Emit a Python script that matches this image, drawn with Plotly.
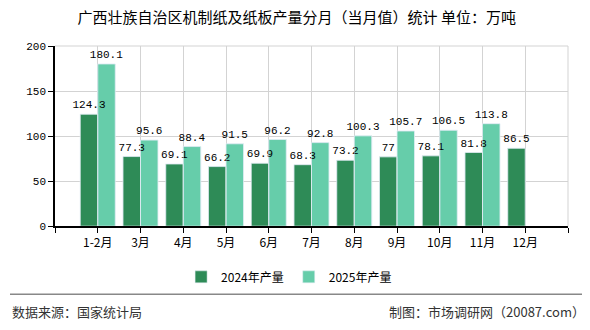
import plotly.graph_objects as go

categories = ["1-2月", "3月", "4月", "5月", "6月", "7月", "8月", "9月", "10月", "11月", "12月"]
values_2024 = [124.3, 77.3, 69.1, 66.2, 69.9, 68.3, 73.2, 77, 78.1, 81.8, 86.5]
values_2025 = [180.1, 95.6, 88.4, 91.5, 96.2, 92.8, 100.3, 105.7, 106.5, 113.8, None]
series_names = ["2024年产量", "2025年产量"]
y_ticks = [0, 50, 100, 150, 200]

title_text = "广西壮族自治区机制纸及纸板产量分月（当月值）统计 单位：万吨"
source_text = "数据来源：国家统计局"
credit_text = "制图：市场调研网（20087.com）"

xpos = list(range(len(categories)))
cjk = "Noto Sans CJK SC"
mono = "Liberation Mono"
colors = ["#2E8B57", "#66CDAA"]

def labels(vals):
    return ["" if v is None else (str(int(v)) if float(v).is_integer() else str(v)) for v in vals]

fig = go.Figure()
series = [values_2024, values_2025]
# visible bars
for i, vals in enumerate(series):
    fig.add_trace(go.Bar(
        x=xpos, y=vals, name=series_names[i], marker_color=colors[i],
        offsetgroup=str(i),
    ))
# label carriers drawn on top (transparent bars, same groups)
for i, vals in enumerate(series):
    fig.add_trace(go.Bar(
        x=xpos, y=vals, name=series_names[i], showlegend=False,
        marker=dict(color="rgba(0,0,0,0)"), offsetgroup=str(i),
        text=labels(vals), textposition="outside", cliponaxis=False,
        constraintext="none", hoverinfo="skip",
        textfont=dict(family=mono, size=11, color="#000"),
    ))

tickvals = [-1] + xpos + [len(categories)]
ticktext = [""] + categories + [""]

fig.update_layout(
    width=590, height=330,
    margin=dict(l=55, r=22, t=46, b=101),
    paper_bgcolor="white", plot_bgcolor="white",
    barmode="group", bargap=0.18, bargroupgap=0,
    showlegend=True,
    legend=dict(orientation="h", xref="container", yref="container",
                x=0.49, xanchor="center", y=0.161, yanchor="middle",
                font=dict(family=cjk, size=12, color="#000"),
                itemwidth=30, tracegroupgap=0),
    title=dict(text=title_text, x=0.503, xanchor="center", xref="container",
               y=0.945, yanchor="middle", yref="container",
               font=dict(family=cjk, size=15, color="#000")),
    uniformtext=dict(mode=False),
)
fig.update_xaxes(
    range=[-1, len(categories)], tickvals=tickvals, ticktext=ticktext,
    showgrid=True, gridcolor="#d3d3d3", gridwidth=1,
    showline=True, linecolor="#000", linewidth=1.5,
    ticks="outside", ticklen=5, tickcolor="#000",
    tickfont=dict(family=cjk, size=12, color="#000"),
    zeroline=False, mirror=False,
)
fig.update_yaxes(
    range=[0, 200], tickvals=y_ticks,
    showgrid=True, gridcolor="#d3d3d3", gridwidth=1,
    showline=True, linecolor="#000", linewidth=1.5,
    ticks="outside", ticklen=5, tickcolor="#000",
    tickfont=dict(family=mono, size=11, color="#000"),
    zeroline=False,
)
# right border gridline and top line
fig.add_shape(type="line", xref="paper", yref="paper", x0=1, x1=1, y0=0, y1=1,
              line=dict(color="#d3d3d3", width=1))
fig.add_shape(type="line", xref="paper", yref="paper", x0=0, x1=1, y0=1, y1=1,
              line=dict(color="#d3d3d3", width=1))
# separator line
fig.add_shape(type="line", xref="paper", yref="paper",
              x0=(10 - 55) / 513, x1=(582 - 55) / 513,
              y0=(229 - 298) / 183, y1=(229 - 298) / 183,
              line=dict(color="#888", width=1.5))
fig.add_annotation(text=source_text, xref="paper", yref="paper",
                   x=(10 - 55) / 513, xanchor="left",
                   y=(229 - 316) / 183, yanchor="middle", showarrow=False,
                   font=dict(family=cjk, size=13, color="#333"))
fig.add_annotation(text=credit_text, xref="paper", yref="paper",
                   x=(587 - 55) / 513, xanchor="right",
                   y=(229 - 316) / 183, yanchor="middle", showarrow=False,
                   font=dict(family=cjk, size=13, color="#333"))

fig.write_html("out.html")
